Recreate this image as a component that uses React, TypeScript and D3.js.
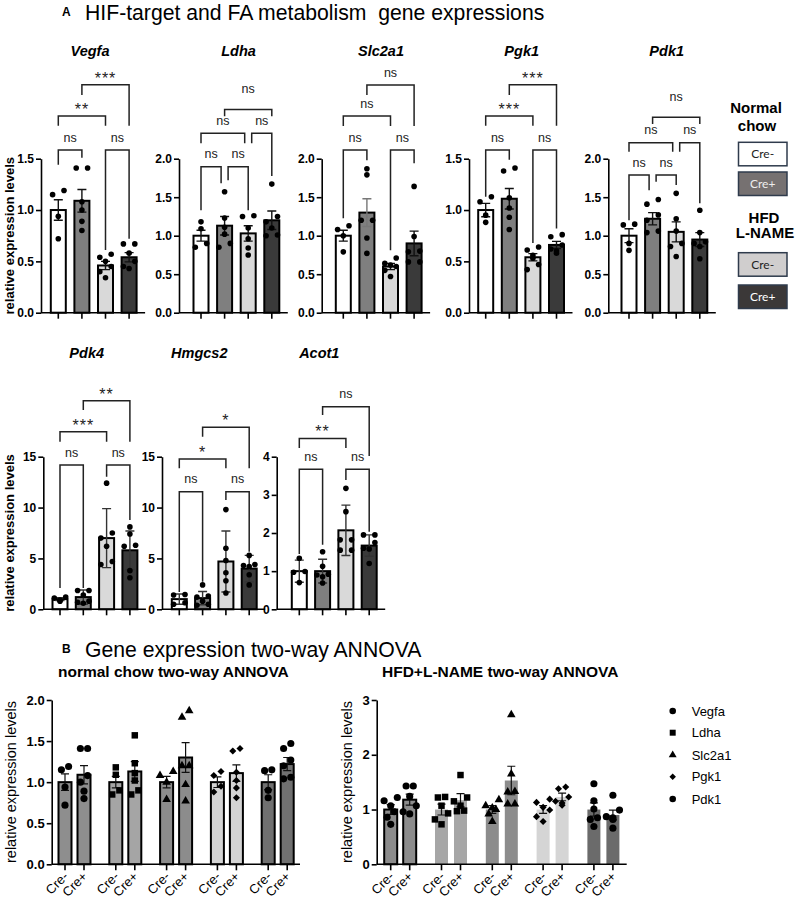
import React, { useEffect, useRef } from 'react';
import * as d3 from 'd3';

const FONT = '"Liberation Sans", Arial, sans-serif';

// group order inside every gene panel
const groupNames = ['Cre-', 'Cre+', 'Cre-', 'Cre+'];
const groupFills = ['#ffffff', '#7f7f7f', '#d9d9d9', '#3a3a3a'];

// ---- HIF targets: mean, SEM, single animals ----
const vegfaMean = [1.0, 1.09, 0.46, 0.54];
const vegfaErr = [0.1, 0.11, 0.04, 0.045];
const vegfaPts = [
  [1.15, 1.19, 0.94, 0.72],
  [1.41, 1.41, 1.08, 1.0, 0.89, 0.8],
  [0.54, 0.57, 0.5, 0.45, 0.4, 0.34],
  [0.67, 0.67, 0.58, 0.5, 0.45, 0.43],
];
// [from, to, label, level, left leg end, right leg end, extra label lift]
const vegfaSig = [
  [0, 1, 'ns', 1.585, 1.44, 1.51],
  [2, 3, 'ns', 1.585, 0.61, 0.72],
  [0, 2, '**', 1.915, 1.82, 1.82],
  [1, 3, '***', 2.22, 2.12, 1.82],
];

const ldhaMean = [1.0, 1.13, 1.03, 1.2];
const ldhaErr = [0.07, 0.12, 0.1, 0.12];
const ldhaPts = [
  [1.18, 1.09, 0.9, 0.85],
  [1.57, 1.23, 1.11, 1.02, 0.9, 0.85],
  [1.25, 1.26, 1.1, 0.96, 0.84, 0.75],
  [1.67, 1.25, 1.18, 1.1, 1.01, 1.0],
];
const ldhaSig = [
  [0, 1, 'ns', 1.896, 1.33, 1.68],
  [1, 2, 'ns', 1.896, 1.72, 1.33],
  [0, 2, 'ns', 2.33, 2.2, 2.2],
  [2, 3, 'ns', 2.33, 2.2, 1.775],
  [1, 3, 'ns', 2.64, 2.55, 2.55, 8],
];

const slcMean = [1.0, 1.3, 0.6, 0.9];
const slcErr = [0.07, 0.18, 0.04, 0.16];
const slcPts = [
  [1.08, 1.13, 0.79, 1.0],
  [1.87, 1.79, 1.2, 1.2, 0.97, 0.77],
  [0.71, 0.64, 0.62, 0.6, 0.55, 0.47],
  [1.64, 0.99, 0.8, 0.79, 0.66, 0.66],
];
const slcSig = [
  [0, 1, 'ns', 2.113, 1.226, 1.98],
  [2, 3, 'ns', 2.113, 0.81, 1.94],
  [0, 2, 'ns', 2.555, 2.425, 2.425],
  [1, 3, 'ns', 2.957, 2.827, 2.425],
];

const pgkMean = [1.0, 1.11, 0.54, 0.66];
const pgkErr = [0.065, 0.1, 0.035, 0.035];
const pgkPts = [
  [1.08, 1.13, 0.95, 0.88],
  [1.38, 1.41, 1.12, 1.02, 0.93, 0.81],
  [0.64, 0.61, 0.56, 0.53, 0.47, 0.42],
  [0.76, 0.74, 0.66, 0.62, 0.6, 0.58],
];
const pgkSig = [
  [0, 1, 'ns', 1.585, 1.13, 1.49],
  [2, 3, 'ns', 1.585, 0.68, 0.82],
  [0, 2, '***', 1.915, 1.82, 1.82],
  [1, 3, '***', 2.22, 2.12, 1.82],
];

const pdk1Mean = [1.0, 1.22, 1.05, 0.95];
const pdk1Err = [0.09, 0.08, 0.13, 0.09];
const pdk1Pts = [
  [1.14, 1.15, 0.81, 0.9],
  [1.47, 1.41, 1.27, 1.2, 1.06, 1.04],
  [1.55, 1.22, 1.06, 0.9, 0.86, 0.73],
  [1.33, 1.04, 0.92, 0.9, 0.86, 0.7],
];
const pdk1Sig = [
  [0, 1, 'ns', 1.788, 1.2, 1.59],
  [1, 2, 'ns', 1.788, 1.7, 1.66],
  [0, 2, 'ns', 2.208, 2.09, 2.09],
  [2, 3, 'ns', 2.208, 2.09, 1.42],
  [1, 3, 'ns', 2.538, 2.45, 2.45, 8],
];

// ---- FA metabolism: mean, SD, single animals ----
const pdk4Mean = [1.0, 1.2, 7.0, 5.8];
const pdk4Err = [0.15, 0.7, 2.9, 1.9];
const pdk4Pts = [
  [1.2, 1.1, 0.9, 0.8],
  [1.85, 1.85, 1.4, 0.8, 0.7, 0.6],
  [12.4, 7.5, 7.0, 6.2, 4.7, 4.4],
  [8.1, 7.4, 6.3, 6.2, 3.8, 3.1],
];
const pdk4Sig = [
  [0, 1, 'ns', 14.19, 2.1, 2.1],
  [2, 3, 'ns', 14.19, 13.04, 8.78],
  [0, 2, '***', 17.46, 16.48, 16.48],
  [1, 3, '**', 20.51, 19.6, 16.48],
];

const hmgMean = [1.0, 1.1, 4.7, 4.0];
const hmgErr = [0.5, 0.65, 3.0, 1.3];
const hmgPts = [
  [1.45, 1.4, 0.65, 0.5],
  [2.4, 1.3, 1.2, 0.8, 0.5, 0.4],
  [9.8, 6.0, 4.8, 3.6, 2.8, 1.6],
  [5.3, 4.4, 4.3, 4.2, 3.4, 2.4],
];
const hmgSig = [
  [0, 1, 'ns', 11.56, 1.7, 2.7],
  [2, 3, 'ns', 11.56, 10.75, 5.66],
  [0, 2, '*', 14.78, 13.86, 13.86],
  [1, 3, '*', 17.9, 16.97, 13.86],
];

const acotMean = [1.0, 1.0, 2.07, 1.67];
const acotErr = [0.29, 0.31, 0.66, 0.28];
const acotPts = [
  [1.34, 0.99, 0.97, 0.7],
  [1.51, 1.13, 0.92, 0.9, 0.85, 0.69],
  [3.17, 2.56, 1.82, 1.82, 1.55, 1.55],
  [1.95, 1.95, 1.75, 1.6, 1.58, 1.2],
];
const acotSig = [
  [0, 1, 'ns', 3.67, 1.45, 1.69],
  [2, 3, 'ns', 3.67, 3.39, 2.03],
  [0, 2, '**', 4.48, 4.23, 4.23],
  [1, 3, 'ns', 5.31, 5.09, 4.02],
];

// ---- HFD + L-NAME, relative to HFD Cre- ----
const hfdVegfaMean = [1.0, 1.18];
const hfdVegfaErr = [0.09, 0.1];
const hfdVegfaPts = [[1.16, 1.22, 1.07, 0.96, 0.86, 0.73], [1.43, 1.43, 1.24, 1.07, 0.96, 0.92]];
const hfdLdhaMean = [1.0, 1.17];
const hfdLdhaErr = [0.1, 0.12];
const hfdLdhaPts = [[1.22, 1.23, 1.07, 0.93, 0.82, 0.73], [1.63, 1.22, 1.15, 1.07, 0.98, 0.97]];
const hfdSlcMean = [1.0, 1.53];
const hfdSlcErr = [0.07, 0.26];
const hfdSlcPts = [[1.18, 1.07, 1.03, 1.0, 0.92, 0.78], [2.73, 1.65, 1.33, 1.32, 1.1, 1.1]];
const hfdPgkMean = [1.0, 1.23];
const hfdPgkErr = [0.07, 0.07];
const hfdPgkPts = [[1.19, 1.13, 1.04, 0.99, 0.87, 0.78], [1.41, 1.38, 1.23, 1.15, 1.12, 1.08]];
const hfdPdk1Mean = [1.0, 0.9];
const hfdPdk1Err = [0.12, 0.09];
const hfdPdk1Pts = [[1.47, 1.16, 1.01, 0.85, 0.82, 0.69], [1.26, 0.99, 0.87, 0.85, 0.82, 0.66]];

const geneNames = ['Vegfa', 'Ldha', 'Slc2a1', 'Pgk1', 'Pdk1'];
const geneFillsNc = ['#8e8e8e', '#a5a5a5', '#8c8c8c', '#d3d3d3', '#707070'];
const geneFillsHfd = ['#8c8c8c', '#a6a6a6', '#8c8c8c', '#d5d5d5', '#6b6b6b'];

type Sig = (number | string)[];
interface Panel {
  title: string;
  mean: number[];
  err: number[];
  pts: number[][];
  sig: Sig[];
  max: number;
  ticks: number[];
  fmt: (d: number) => string;
  errColor?: string[];
}

const f1 = d3.format('.1f');
const f0 = d3.format('d');

const topPanels: Panel[] = [
  { title: 'Vegfa', mean: vegfaMean, err: vegfaErr, pts: vegfaPts, sig: vegfaSig, max: 1.5, ticks: [0, 0.5, 1, 1.5], fmt: f1 },
  { title: 'Ldha', mean: ldhaMean, err: ldhaErr, pts: ldhaPts, sig: ldhaSig, max: 2, ticks: [0, 0.5, 1, 1.5, 2], fmt: f1 },
  { title: 'Slc2a1', mean: slcMean, err: slcErr, pts: slcPts, sig: slcSig, max: 2, ticks: [0, 0.5, 1, 1.5, 2], fmt: f1, errColor: ['#111', '#777', '#111', '#111'] },
  { title: 'Pgk1', mean: pgkMean, err: pgkErr, pts: pgkPts, sig: pgkSig, max: 1.5, ticks: [0, 0.5, 1, 1.5], fmt: f1 },
  { title: 'Pdk1', mean: pdk1Mean, err: pdk1Err, pts: pdk1Pts, sig: pdk1Sig, max: 2, ticks: [0, 0.5, 1, 1.5, 2], fmt: f1 },
];
const midPanels: Panel[] = [
  { title: 'Pdk4', mean: pdk4Mean, err: pdk4Err, pts: pdk4Pts, sig: pdk4Sig, max: 15, ticks: [0, 5, 10, 15], fmt: f0, errColor: ['#333', '#333', '#333', '#333'] },
  { title: 'Hmgcs2', mean: hmgMean, err: hmgErr, pts: hmgPts, sig: hmgSig, max: 15, ticks: [0, 5, 10, 15], fmt: f0, errColor: ['#333', '#333', '#333', '#333'] },
  { title: 'Acot1', mean: acotMean, err: acotErr, pts: acotPts, sig: acotSig, max: 4, ticks: [0, 1, 2, 3, 4], fmt: f0, errColor: ['#333', '#333', '#333', '#333'] },
];

// layout of the gene panels
const topLayout = { yTop: 158.7, yBottom: 312.7, titleY: 56, step: 23.6 };
const topAxisX = [41, 179, 321.7, 469, 608.3];
const topFirstX = [58.3, 201, 343.3, 485.7, 629];
const topTitleX = [90, 238.5, 381, 521.7, 666.7];
const midLayout = { yTop: 456.7, yBottom: 609.3, titleY: 358, step: 23.3 };
const midAxisX = [43.3, 162, 276.7];
const midFirstX = [60, 179.3, 299.3];
const midTitleX = [86.7, 199.3, 319.3];

// place dots of one group: near-equal values are pushed sideways
const spread = (vals: number[], y: (v: number) => number, minGap: number, a: number, b: number) => {
  const pts = vals.map(v => ({ v, py: y(v) })).sort((p, q) => p.py - q.py);
  const out: { v: number; dx: number }[] = [];
  let run: { v: number; py: number }[] = [];
  const flush = () => {
    const offs = run.length === 1 ? [0] : run.length === 2 ? [a, -a] : [b, -b, 0];
    run.forEach((p, i) => out.push({ v: p.v, dx: offs[i] }));
    run = [];
  };
  pts.forEach(p => {
    if (run.length && (p.py - run[run.length - 1].py >= minGap || run.length === 3)) flush();
    run.push(p);
  });
  if (run.length) flush();
  return out;
};

const styleAxis = (sel: any, size: number, weight: string) => {
  sel.selectAll('path,line').attr('stroke', '#000').attr('stroke-width', 1.6);
  sel.selectAll('text')
    .attr('font-family', FONT)
    .attr('font-size', size)
    .attr('font-weight', weight)
    .attr('fill', '#000');
};

const drawPanel = (root: any, p: Panel, axisX: number, firstX: number, titleX: number, lay: any) => {
  const g = root.append('g');
  const y = d3.scaleLinear().domain([0, p.max]).range([lay.yBottom, lay.yTop]);
  const x = d3.scaleLinear().domain([0, 3]).range([firstX, firstX + 3 * lay.step]);
  const barW = 15;

  g.append('text')
    .attr('x', titleX).attr('y', lay.titleY)
    .attr('text-anchor', 'middle')
    .attr('font-family', FONT).attr('font-size', 14.5)
    .attr('font-weight', 'bold').attr('font-style', 'italic')
    .text(p.title);

  g.selectAll('rect.bar')
    .data(p.mean)
    .enter().append('rect')
    .attr('x', (d: number, i: number) => x(i) - barW / 2)
    .attr('y', (d: number) => y(d))
    .attr('width', barW)
    .attr('height', (d: number) => y(0) - y(d))
    .attr('fill', (d: number, i: number) => groupFills[i])
    .attr('stroke', '#000')
    .attr('stroke-width', 2);

  p.mean.forEach((m, i) => {
    const cx = x(i);
    const e = p.err[i];
    g.append('path')
      .attr('d', `M${cx},${y(m - e)}V${y(m + e)}M${cx - 4.5},${y(m + e)}h9M${cx - 4.5},${y(m - e)}h9`)
      .attr('fill', 'none')
      .attr('stroke', p.errColor ? p.errColor[i] : '#111')
      .attr('stroke-width', 1.4);

    spread(p.pts[i], y, 6, 5.7, 5.7).forEach(d => {
      g.append('circle')
        .attr('cx', cx + d.dx).attr('cy', y(d.v))
        .attr('r', 2.8).attr('fill', '#000');
    });
  });

  const yAxis = g.append('g')
    .attr('transform', `translate(${axisX},0)`)
    .call(d3.axisLeft(y).tickValues(p.ticks).tickSize(5).tickSizeOuter(0).tickPadding(2).tickFormat(p.fmt as any));
  styleAxis(yAxis, 12, 'bold');

  g.append('line')
    .attr('x1', axisX).attr('x2', x(3) + 16)
    .attr('y1', y(0)).attr('y2', y(0))
    .attr('stroke', '#000').attr('stroke-width', 1.6);
  g.selectAll('line.xt')
    .data(p.mean)
    .enter().append('line')
    .attr('x1', (d: number, i: number) => x(i)).attr('x2', (d: number, i: number) => x(i))
    .attr('y1', y(0)).attr('y2', y(0) + 6)
    .attr('stroke', '#000').attr('stroke-width', 1.6);

  // significance brackets
  p.sig.forEach(s => {
    const [a, b, label, lvl, le, re, lift] = s as [number, number, string, number, number, number, number?];
    const shareL = p.sig.some(o => o !== s && o[3] === lvl && o[1] === a);
    const shareR = p.sig.some(o => o !== s && o[3] === lvl && o[0] === b);
    const xa = x(a) + (shareL ? 3.5 : 0);
    const xb = x(b) - (shareR ? 3.5 : 0);
    g.append('path')
      .attr('d', `M${xa},${y(le)}V${y(lvl)}H${xb}V${y(re)}`)
      .attr('fill', 'none').attr('stroke', '#222').attr('stroke-width', 1.5);
    const stars = label !== 'ns';
    g.append('text')
      .attr('x', (xa + xb) / 2)
      .attr('y', y(lvl) - (stars ? 1 : 8.4) - (lift || 0))
      .attr('text-anchor', 'middle')
      .attr('font-family', FONT)
      .attr('font-size', stars ? 16 : 12.5)
      .attr('letter-spacing', stars ? 1 : 0)
      .attr('fill', '#222')
      .text(label);
  });
};

const symbolTypes = [d3.symbolCircle, d3.symbolSquare, d3.symbolTriangle, (d3 as any).symbolDiamond2 || d3.symbolDiamond, d3.symbolCircle];
const symbolSizes = [40, 42, 32, 32, 40];

const drawGrouped = (root: any, cfg: any) => {
  const g = root.append('g');
  const y = d3.scaleLinear().domain([0, cfg.max]).range([864.3, 700]);
  const gx = d3.scaleLinear().domain([0, 4]).range([cfg.firstGroup, cfg.firstGroup + 4 * 50.8]);
  const barW = 13;

  g.append('text')
    .attr('x', cfg.titleX).attr('y', 677)
    .attr('font-family', FONT).attr('font-size', 15.5).attr('font-weight', 'bold')
    .text(cfg.title);

  geneNames.forEach((gene, gi) => {
    [0, 1].forEach(k => {
      const cx = gx(gi) + (k === 0 ? -9.5 : 9.5);
      const m = cfg.means[gi][k];
      const e = cfg.errs[gi][k];
      const outlined = cfg.outline(gi);
      g.append('rect')
        .attr('x', cx - barW / 2).attr('y', y(m))
        .attr('width', barW).attr('height', y(0) - y(m))
        .attr('fill', cfg.fills[gi])
        .attr('stroke', outlined ? '#000' : 'none')
        .attr('stroke-width', 2);
      g.append('path')
        .attr('d', `M${cx},${y(m - e)}V${y(m + e)}M${cx - 4},${y(m + e)}h8M${cx - 4},${y(m - e)}h8`)
        .attr('fill', 'none').attr('stroke', '#111').attr('stroke-width', 1.2);
      const sym = d3.symbol().type(symbolTypes[gi]).size(symbolSizes[gi]);
      spread(cfg.pts[gi][k], y, 7, 3.6, 6.6).forEach(d => {
        g.append('path')
          .attr('d', sym() as string)
          .attr('transform', `translate(${cx + d.dx},${y(d.v)})`)
          .attr('fill', '#000');
      });
      g.append('line')
        .attr('x1', cx).attr('x2', cx)
        .attr('y1', y(0)).attr('y2', y(0) + 6)
        .attr('stroke', '#000').attr('stroke-width', 1.6);
      g.append('text')
        .attr('transform', `translate(${cx + 4},${y(0) + 13}) rotate(-45)`)
        .attr('text-anchor', 'end')
        .attr('font-family', FONT).attr('font-size', 13)
        .text(k === 0 ? 'Cre-' : 'Cre+');
    });
  });

  const yAxis = g.append('g')
    .attr('transform', `translate(${cfg.axisX},0)`)
    .call(d3.axisLeft(y).tickValues(cfg.ticks).tickSize(5).tickSizeOuter(0).tickPadding(2).tickFormat(cfg.fmt));
  styleAxis(yAxis, 13, 'bold');
  g.append('line')
    .attr('x1', cfg.axisX).attr('x2', cfg.axisEnd)
    .attr('y1', y(0)).attr('y2', y(0))
    .attr('stroke', '#000').attr('stroke-width', 1.6);

  g.append('text')
    .attr('transform', `translate(${cfg.labelX},782) rotate(-90)`)
    .attr('text-anchor', 'middle')
    .attr('font-family', FONT).attr('font-size', 14.5)
    .text('relative expression levels');
};

export default function App() {
  const ref = useRef<SVGSVGElement>(null);

  useEffect(() => {
    document.body.style.margin = '0';
    const svg = d3.select(ref.current);
    svg.selectAll('*').remove();

    svg.append('rect').attr('width', 796).attr('height', 902).attr('fill', '#fff');

    // panel headings
    svg.append('text').attr('x', 62).attr('y', 16)
      .attr('font-family', FONT).attr('font-size', 12).attr('font-weight', 'bold').text('A');
    svg.append('text').attr('x', 85).attr('y', 19.5)
      .attr('font-family', FONT).attr('font-size', 21.2).style('white-space', 'pre')
      .text('HIF-target and FA metabolism  gene expressions');
    svg.append('text').attr('x', 62).attr('y', 653)
      .attr('font-family', FONT).attr('font-size', 12).attr('font-weight', 'bold').text('B');
    svg.append('text').attr('x', 85).attr('y', 656.7)
      .attr('font-family', FONT).attr('font-size', 21.2)
      .text('Gene expression two-way ANNOVA');

    topPanels.forEach((p, i) => drawPanel(svg, p, topAxisX[i], topFirstX[i], topTitleX[i], topLayout));
    midPanels.forEach((p, i) => drawPanel(svg, p, midAxisX[i], midFirstX[i], midTitleX[i], midLayout));

    [[235.7, 14], [533, 14]].forEach(([cy, cx]) => {
      svg.append('text')
        .attr('transform', `translate(${cx},${cy}) rotate(-90)`)
        .attr('text-anchor', 'middle')
        .attr('font-family', FONT).attr('font-size', 13).attr('font-weight', 'bold')
        .text('relative expression levels');
    });

    // group legend for panel A
    const lg = svg.append('g').attr('font-family', FONT).attr('font-weight', 'bold').attr('font-size', 15).attr('text-anchor', 'middle');
    lg.append('text').attr('x', 756).attr('y', 113.3).text('Normal');
    lg.append('text').attr('x', 757).attr('y', 130.7).text('chow');
    lg.append('text').attr('x', 764).attr('y', 222.7).text('HFD');
    lg.append('text').attr('x', 765).attr('y', 238.3).text('L-NAME');
    const boxY = [142.3, 172, 252.7, 285];
    const boxFill = ['#ffffff', '#767171', '#d0cece', '#3b3838'];
    const boxText = ['#222', '#eeeeee', '#222', '#ffffff'];
    boxY.forEach((by, i) => {
      svg.append('rect')
        .attr('x', 738.5).attr('y', by).attr('width', 48.5).attr('height', 23.5)
        .attr('fill', boxFill[i]).attr('stroke', '#2f3b4c').attr('stroke-width', 1.5);
      svg.append('text')
        .attr('x', 762.7).attr('y', by + 16)
        .attr('text-anchor', 'middle')
        .attr('font-family', 'Lato, "Open Sans", sans-serif').attr('font-size', 12)
        .attr('fill', boxText[i])
        .text(groupNames[i]);
    });

    // two-way ANOVA overviews
    const ncPanels = [
      [vegfaMean, vegfaErr, vegfaPts], [ldhaMean, ldhaErr, ldhaPts], [slcMean, slcErr, slcPts],
      [pgkMean, pgkErr, pgkPts], [pdk1Mean, pdk1Err, pdk1Pts],
    ] as [number[], number[], number[][]][];
    drawGrouped(svg, {
      title: 'normal chow two-way ANNOVA', titleX: 58,
      axisX: 51.7, axisEnd: 300, firstGroup: 74.5, labelX: 16,
      max: 2, ticks: [0, 0.5, 1, 1.5, 2], fmt: f1,
      means: ncPanels.map(d => d[0].slice(0, 2)),
      errs: ncPanels.map(d => d[1].slice(0, 2)),
      pts: ncPanels.map(d => d[2].slice(0, 2)),
      fills: geneFillsNc,
      outline: () => true,
    });
    drawGrouped(svg, {
      title: 'HFD+L-NAME two-way ANNOVA', titleX: 382,
      axisX: 376.7, axisEnd: 626.7, firstGroup: 400.2, labelX: 352,
      max: 3, ticks: [0, 1, 2, 3], fmt: f0,
      means: [hfdVegfaMean, hfdLdhaMean, hfdSlcMean, hfdPgkMean, hfdPdk1Mean],
      errs: [hfdVegfaErr, hfdLdhaErr, hfdSlcErr, hfdPgkErr, hfdPdk1Err],
      pts: [hfdVegfaPts, hfdLdhaPts, hfdSlcPts, hfdPgkPts, hfdPdk1Pts],
      fills: geneFillsHfd,
      outline: (gi: number) => gi === 0,
    });

    // marker legend
    const legY = [711, 732.7, 755, 776.7, 799];
    geneNames.forEach((gene, i) => {
      svg.append('path')
        .attr('d', d3.symbol().type(symbolTypes[i]).size(symbolSizes[i] * 0.85)() as string)
        .attr('transform', `translate(672.7,${legY[i]})`)
        .attr('fill', '#000');
      svg.append('text')
        .attr('x', 691.7).attr('y', legY[i] + 4.7)
        .attr('font-family', FONT).attr('font-size', 13)
        .text(gene);
    });
  }, []);

  return <svg ref={ref} width={796} height={902} style={{ display: 'block' }} />;
}
